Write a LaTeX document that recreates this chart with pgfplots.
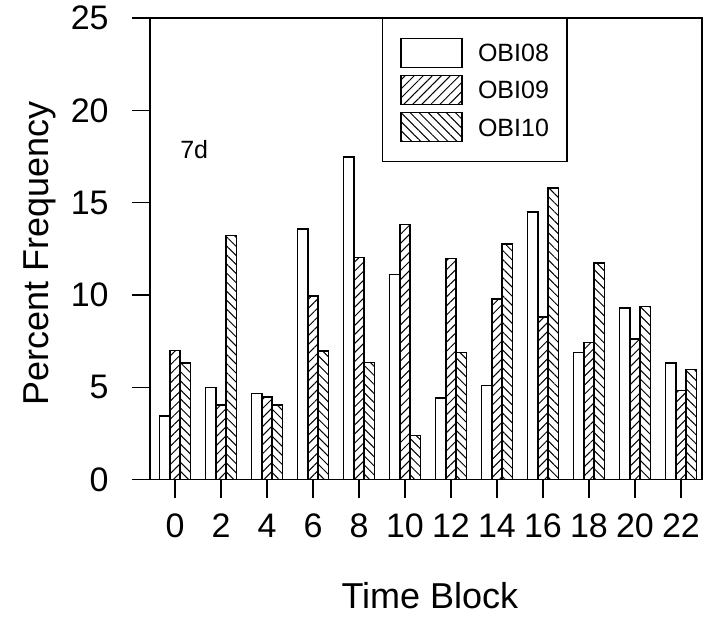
\documentclass[border=0pt]{standalone}
\usepackage{fontspec}
\setmainfont{Liberation Sans}
\usepackage{pgfplots}
\pgfplotsset{compat=1.18}
\usetikzlibrary{patterns.meta}
\begin{document}
\begin{tikzpicture}
\begin{axis}[
  scale only axis,
  width=276pt, height=230.85pt,
  xmin=-0.543, xmax=11.457,
  ymin=0, ymax=25,
  ybar=0pt, bar width=5.15pt,
  axis line style={line width=0.6pt},
  xtick={0,1,2,3,4,5,6,7,8,9,10,11},
  xticklabels={0,2,4,6,8,10,12,14,16,18,20,22},
  ytick={0,5,10,15,20,25},
  xtick pos=bottom, ytick pos=left,
  tick align=outside,
  major tick length=9pt,
  tick style={black, line width=0.6pt},
  /pgf/number format/assume math mode=true,
  ticklabel style={font=\fontsize{17}{20}\selectfont},
  yticklabel style={inner sep=0pt, xshift=-11.5pt},
  xticklabel style={inner sep=0pt, yshift=-8pt},
  ylabel={Percent Frequency},
  xlabel={Time Block},
  label style={font=\fontsize{18}{21}\selectfont},
  ylabel style={at={(axis description cs:-0.199,0.49)}, anchor=center, rotate=0},
  xlabel style={at={(axis description cs:0.507,-0.252)}, anchor=center},
  legend image code/.code={\draw[#1, bar shift=0pt] (0pt,-2.75pt) rectangle (30.5pt,11.75pt);},
  legend style={at={(rel axis cs:0.42,1.0)}, anchor=north west, draw=black, line width=0.6pt,
    inner xsep=9pt, inner ysep=9.5pt, row sep=3.25pt, column sep=0pt,
    font=\fontsize{12.5}{14}\selectfont,
    nodes={inner sep=0pt, anchor=base west}},
  legend cell align=left,
  every axis plot/.append style={draw=black, line width=0.8pt},
]
\addplot[fill=white] coordinates {(0,3.45) (1,5.0) (2,4.67) (3,13.57) (4,17.47) (5,11.10) (6,4.42) (7,5.10) (8,14.49) (9,6.89) (10,9.30) (11,6.32)};
\addplot[pattern={Lines[angle=45,distance=3.2pt,line width=0.5pt]}] coordinates {(0,7.0) (1,4.04) (2,4.48) (3,9.95) (4,12.04) (5,13.81) (6,11.98) (7,9.80) (8,8.81) (9,7.43) (10,7.63) (11,4.82)};
\addplot[pattern={Lines[angle=-45,distance=3.2pt,line width=0.5pt]}] coordinates {(0,6.32) (1,13.23) (2,4.06) (3,6.98) (4,6.35) (5,2.40) (6,6.89) (7,12.76) (8,15.79) (9,11.73) (10,9.38) (11,5.96)};
\legend{\hspace{7.5pt}OBI08,\hspace{7.5pt}OBI09,\hspace{7.5pt}OBI10}
\node[font=\fontsize{12.5}{14}\selectfont, anchor=center] at (rel axis cs:0.08,0.714) {7d};
\end{axis}
\pgfresetboundingbox
\path ([shift={(-75pt,-68.5pt)}]current axis.south west) rectangle ([shift={(1.5pt,9pt)}]current axis.north east);
\end{tikzpicture}
\end{document}
